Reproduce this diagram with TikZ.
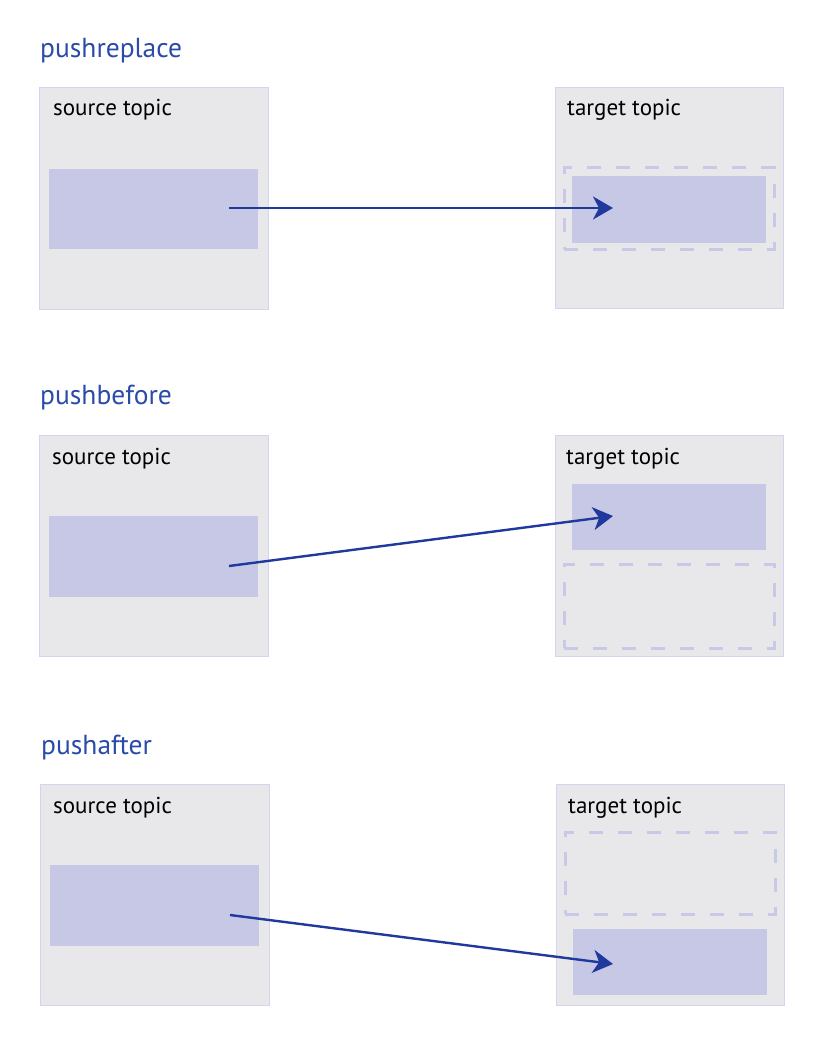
\documentclass[tikz,border=0pt]{standalone}
\usepackage{fontspec}
\setmainfont{PT Sans}
\usetikzlibrary{arrows.meta}
\definecolor{panelfill}{HTML}{E8E8EA}
\definecolor{panelline}{HTML}{D4D4F2}
\definecolor{itemfill}{HTML}{C7C8E6}
\definecolor{dashcol}{HTML}{C8C8E8}
\definecolor{titleblue}{HTML}{2B4BA8}
\definecolor{arrowblue}{HTML}{1F3A9C}
\tikzset{
  panel/.style={draw=panelline, fill=panelfill, line width=1pt, inner sep=0pt, outer sep=0pt, anchor=north west},
  item/.style={fill=itemfill, inner sep=0pt, outer sep=0pt, anchor=north west},
  slot/.style={draw=dashcol, line width=3pt, dash pattern=on 14pt off 15pt, inner sep=0pt, outer sep=0pt, anchor=north west},
  title/.style={font=\fontsize{27.5}{32}\selectfont, text=titleblue, anchor=base west, inner sep=0pt},
  label/.style={font=\fontsize{23}{27}\selectfont, text=black, anchor=base west, inner sep=0pt},
  push/.style={draw=arrowblue, line width=2.4pt, -{Stealth[length=20pt, width=23pt, inset=6pt]}}
}
\begin{document}
\begin{tikzpicture}[x=1pt, y=-1pt]
\useasboundingbox (0,0) rectangle (825,1043);
% ---- pushreplace
\node[title] (t1) at (40,58) {pushreplace};
\node[panel, minimum width=229pt, minimum height=221pt] (s1) at (39,88) {};
\node[label] (s1l) at (53,116) {source topic};
\node[item, minimum width=209pt, minimum height=80pt] (s1i) at (49,169) {};
\node[panel, minimum width=228pt, minimum height=220pt] (d1) at (555,88) {};
\node[label] (d1l) at (567,116) {target topic};
\node[slot, minimum width=210pt, minimum height=81pt] (d1s) at (564,168) {};
\node[item, minimum width=194pt, minimum height=67pt] (d1i) at (572,176) {};
\coordinate (a1) at (229,208);
\coordinate (b1) at (613,208);
\draw[push] (a1) -- (b1);
% ---- pushbefore
\node[title] (t2) at (40,404) {pushbefore};
\node[panel, minimum width=229pt, minimum height=221pt] (s2) at (39,435) {};
\node[label] (s2l) at (52,464) {source topic};
\node[item, minimum width=209pt, minimum height=81pt] (s2i) at (49,516) {};
\node[panel, minimum width=228pt, minimum height=221pt] (d2) at (555,435) {};
\node[label] (d2l) at (566,464) {target topic};
\node[item, minimum width=194pt, minimum height=66pt] (d2i) at (572,484) {};
\node[slot, minimum width=210pt, minimum height=84pt] (d2s) at (564,564) {};
\coordinate (a2) at (229,566);
\coordinate (b2) at (613,516);
\draw[push] (a2) -- (b2);
% ---- pushafter
\node[title] (t3) at (41,754) {pushafter};
\node[panel, minimum width=229pt, minimum height=221pt] (s3) at (40,784) {};
\node[label] (s3l) at (53,813) {source topic};
\node[item, minimum width=209pt, minimum height=81pt] (s3i) at (50,865) {};
\node[panel, minimum width=228pt, minimum height=221pt] (d3) at (556,784) {};
\node[label] (d3l) at (568,813) {target topic};
\node[slot, minimum width=210pt, minimum height=82pt] (d3s) at (565,832) {};
\node[item, minimum width=194pt, minimum height=66pt] (d3i) at (573,929) {};
\coordinate (a3) at (230,915);
\coordinate (b3) at (613,964);
\draw[push] (a3) -- (b3);
\end{tikzpicture}
\end{document}
